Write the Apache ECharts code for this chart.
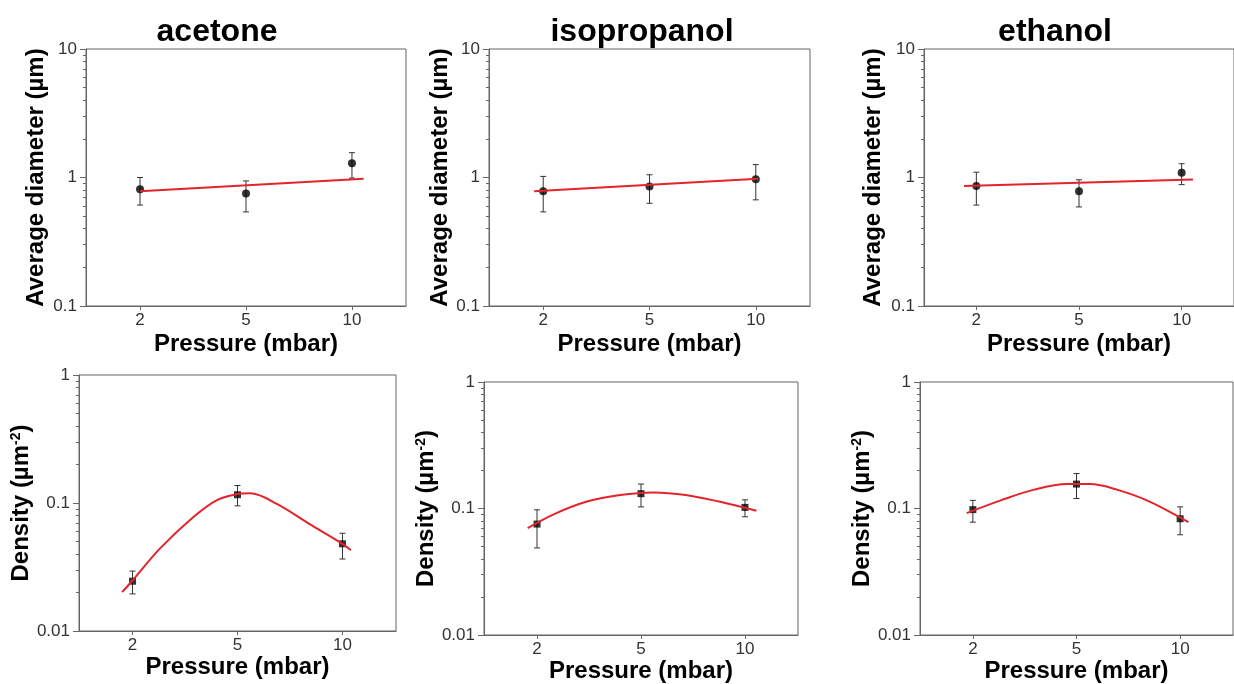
<!DOCTYPE html>
<html>
<head>
<meta charset="utf-8">
<title>Average diameter and density vs pressure</title>
<script src="https://cdn.jsdelivr.net/npm/echarts@6/dist/echarts.min.js"></script>
<style>
  html, body { margin: 0; background: #fff; }
  #chart { width: 1234px; height: 684px; }
</style>
</head>
<body>
<div id="chart"></div>
<script>
// x positions: the three pressures are drawn evenly spaced
const pressureLabels = ['2', '5', '10'];
const pressurePos = [0, 1, 2];
const solvents = ['acetone', 'isopropanol', 'ethanol'];

// average diameter (µm): value, lower and upper error
const acetoneDia = [0.81, 0.75, 1.29];
const acetoneDiaLow = [0.61, 0.54, 0.99];
const acetoneDiaHigh = [1.0, 0.94, 1.56];
const isopropanolDia = [0.78, 0.85, 0.97];
const isopropanolDiaLow = [0.54, 0.63, 0.67];
const isopropanolDiaHigh = [1.02, 1.05, 1.26];
const ethanolDia = [0.86, 0.78, 1.09];
const ethanolDiaLow = [0.61, 0.59, 0.88];
const ethanolDiaHigh = [1.10, 0.96, 1.28];

// linear fit of the diameters (x in pressure positions)
const acetoneDiaFitX = [0.0, 2.11];
const acetoneDiaFitY = [0.78, 0.98];
const isopropanolDiaFitX = [-0.085, 2.02];
const isopropanolDiaFitY = [0.78, 0.98];
const ethanolDiaFitX = [-0.12, 2.11];
const ethanolDiaFitY = [0.86, 0.965];

// density (µm^-2)
const acetoneDen = [0.0245, 0.116, 0.048];
const acetoneDenLow = [0.0195, 0.095, 0.0365];
const acetoneDenHigh = [0.0294, 0.137, 0.058];
const isopropanolDen = [0.0753, 0.131, 0.102];
const isopropanolDenLow = [0.0488, 0.103, 0.086];
const isopropanolDenHigh = [0.0976, 0.156, 0.117];
const ethanolDen = [0.098, 0.156, 0.083];
const ethanolDenLow = [0.078, 0.12, 0.062];
const ethanolDenHigh = [0.116, 0.189, 0.103];

// fitted density curves
const acetoneDenFitX = [-0.10, 0.0, 0.26, 0.58, 0.80, 0.99, 1.12, 1.37, 1.68, 2.0, 2.08];
const acetoneDenFitY = [0.0201, 0.0248, 0.044, 0.0777, 0.105, 0.117, 0.119, 0.0989, 0.069, 0.048, 0.0427];
const isopropanolDenFitX = [-0.09, 0.16, 0.48, 0.80, 1.12, 1.43, 1.75, 2.11];
const isopropanolDenFitY = [0.070, 0.090, 0.1135, 0.128, 0.134, 0.128, 0.1135, 0.096];
const ethanolDenFitX = [-0.06, 0.27, 0.59, 0.91, 1.13, 1.39, 1.71, 2.08];
const ethanolDenFitY = [0.092, 0.116, 0.141, 0.156, 0.156, 0.141, 0.113, 0.078];

const diaTicks = [0.1, 1, 10];
const denTicks = [0.01, 0.1, 1];
const diaMinorTicks = [0.2, 0.3, 0.4, 0.5, 0.6, 0.7, 0.8, 0.9, 2, 3, 4, 5, 6, 7, 8, 9];
const denMinorTicks = [0.02, 0.03, 0.04, 0.05, 0.06, 0.07, 0.08, 0.09, 0.2, 0.3, 0.4, 0.5, 0.6, 0.7, 0.8, 0.9];

const FONT = "'Liberation Sans', Arial, sans-serif";

const panels = [
  { grid: { left: 86, top: 49, width: 320, height: 257 }, kind: 'dia', nameGap: 38, xGap: 26,
    y: acetoneDia, lo: acetoneDiaLow, hi: acetoneDiaHigh, fx: acetoneDiaFitX, fy: acetoneDiaFitY },
  { grid: { left: 489, top: 49, width: 321, height: 257 }, kind: 'dia', nameGap: 35, xGap: 26,
    y: isopropanolDia, lo: isopropanolDiaLow, hi: isopropanolDiaHigh, fx: isopropanolDiaFitX, fy: isopropanolDiaFitY },
  { grid: { left: 924, top: 49, width: 320, height: 257 }, kind: 'dia', nameGap: 39, xGap: 26,
    y: ethanolDia, lo: ethanolDiaLow, hi: ethanolDiaHigh, fx: ethanolDiaFitX, fy: ethanolDiaFitY },
  { grid: { left: 79, top: 375, width: 317, height: 256 }, kind: 'den', nameGap: 39, xGap: 23,
    y: acetoneDen, lo: acetoneDenLow, hi: acetoneDenHigh, fx: acetoneDenFitX, fy: acetoneDenFitY },
  { grid: { left: 484, top: 382, width: 314, height: 253 }, kind: 'den', nameGap: 40, xGap: 22,
    y: isopropanolDen, lo: isopropanolDenLow, hi: isopropanolDenHigh, fx: isopropanolDenFitX, fy: isopropanolDenFitY },
  { grid: { left: 920, top: 382, width: 313, height: 253 }, kind: 'den', nameGap: 41, xGap: 22,
    y: ethanolDen, lo: ethanolDenLow, hi: ethanolDenHigh, fx: ethanolDenFitX, fy: ethanolDenFitY }
];

const titleX = [217, 642, 1055];

const renderErrorBar = (params, api) => {
  const x = api.value(0);
  const lo = api.coord([x, api.value(1)]);
  const hi = api.coord([x, api.value(2)]);
  const cap = 3;
  const style = { stroke: '#333', lineWidth: 1 };
  return {
    type: 'group',
    children: [
      { type: 'line', shape: { x1: lo[0], y1: lo[1], x2: hi[0], y2: hi[1] }, style },
      { type: 'line', shape: { x1: lo[0] - cap, y1: lo[1], x2: lo[0] + cap, y2: lo[1] }, style },
      { type: 'line', shape: { x1: hi[0] - cap, y1: hi[1], x2: hi[0] + cap, y2: hi[1] }, style }
    ]
  };
};

const grids = [];
const xAxes = [];
const yAxes = [];
const series = [];

panels.forEach((p, i) => {
  const isDia = p.kind === 'dia';
  grids.push({ ...p.grid, show: true, borderColor: '#666', borderWidth: 1, backgroundColor: 'transparent' });

  xAxes.push({
    gridIndex: i,
    type: 'value',
    min: -0.51,
    max: 2.51,
    name: 'Pressure (mbar)',
    nameLocation: 'middle',
    nameGap: p.xGap,
    nameTextStyle: { color: '#000', fontSize: 24, fontWeight: 'bold', fontFamily: FONT },
    axisLine: { onZero: false, lineStyle: { color: '#666', width: 1 } },
    axisTick: { customValues: pressurePos, length: 4, lineStyle: { color: '#666' } },
    axisLabel: {
      customValues: pressurePos,
      margin: 6,
      color: '#333',
      fontSize: 17,
      fontFamily: FONT,
      formatter: v => pressureLabels[Math.round(v)]
    },
    splitLine: { show: false }
  });

  const yMin = isDia ? 0.1 : 0.01;
  const yMax = isDia ? 10 : 1;
  const yName = isDia ? 'Average diameter (µm)' : '{a|Density (µm}{s|-2}{a|)}';

  yAxes.push({
    gridIndex: i,
    type: 'log',
    logBase: 10,
    min: yMin,
    max: yMax,
    position: 'left',
    name: yName,
    nameLocation: 'middle',
    nameGap: p.nameGap,
    nameRotate: 90,
    nameTextStyle: {
      color: '#000',
      fontSize: 24,
      fontWeight: 'bold',
      fontFamily: FONT,
      rich: {
        a: { color: '#000', fontSize: 24, fontWeight: 'bold', fontFamily: FONT },
        s: { color: '#000', fontSize: 14, fontWeight: 'bold', fontFamily: FONT, verticalAlign: 'top' }
      }
    },
    axisLine: { show: true, onZero: false, lineStyle: { color: '#666', width: 1 } },
    axisTick: { customValues: isDia ? diaTicks : denTicks, length: 6, lineStyle: { color: '#666' } },
    axisLabel: {
      customValues: isDia ? diaTicks : denTicks,
      margin: 9,
      color: '#333',
      fontSize: 17,
      fontFamily: FONT,
      formatter: v => String(v)
    },
    splitLine: { show: false }
  });

  // second axis on the same side, only for the minor log ticks
  yAxes.push({
    gridIndex: i,
    type: 'log',
    logBase: 10,
    min: yMin,
    max: yMax,
    position: 'left',
    axisLine: { show: false, onZero: false },
    axisTick: { customValues: isDia ? diaMinorTicks : denMinorTicks, length: 3, lineStyle: { color: '#666' } },
    axisLabel: { show: false },
    splitLine: { show: false }
  });

  const yIdx = i * 2;

  series.push({
    type: 'custom',
    xAxisIndex: i,
    yAxisIndex: yIdx,
    renderItem: renderErrorBar,
    encode: { x: 0, y: [1, 2] },
    data: pressurePos.map((x, k) => [x, p.lo[k], p.hi[k]]),
    z: 2
  });

  series.push({
    type: 'scatter',
    xAxisIndex: i,
    yAxisIndex: yIdx,
    symbol: isDia ? 'circle' : 'rect',
    symbolSize: isDia ? 8 : 7,
    itemStyle: { color: '#000' },
    data: pressurePos.map((x, k) => [x, p.y[k]]),
    z: 3
  });

  series.push({
    type: 'line',
    xAxisIndex: i,
    yAxisIndex: yIdx,
    smooth: isDia ? false : 0.35,
    showSymbol: false,
    lineStyle: { color: '#e3242b', width: 2 },
    data: p.fx.map((x, k) => [x, p.fy[k]]),
    z: 4
  });
});

const chart = echarts.init(document.getElementById('chart'));
chart.setOption({
  animation: false,
  backgroundColor: '#fff',
  grid: grids,
  xAxis: xAxes,
  yAxis: yAxes,
  series,
  graphic: solvents.map((s, i) => ({
    type: 'text',
    x: titleX[i],
    y: 32,
    style: {
      text: s,
      font: 'bold 32px ' + FONT,
      fill: '#000',
      textAlign: 'center',
      textVerticalAlign: 'middle'
    }
  }))
});
</script>
</body>
</html>
